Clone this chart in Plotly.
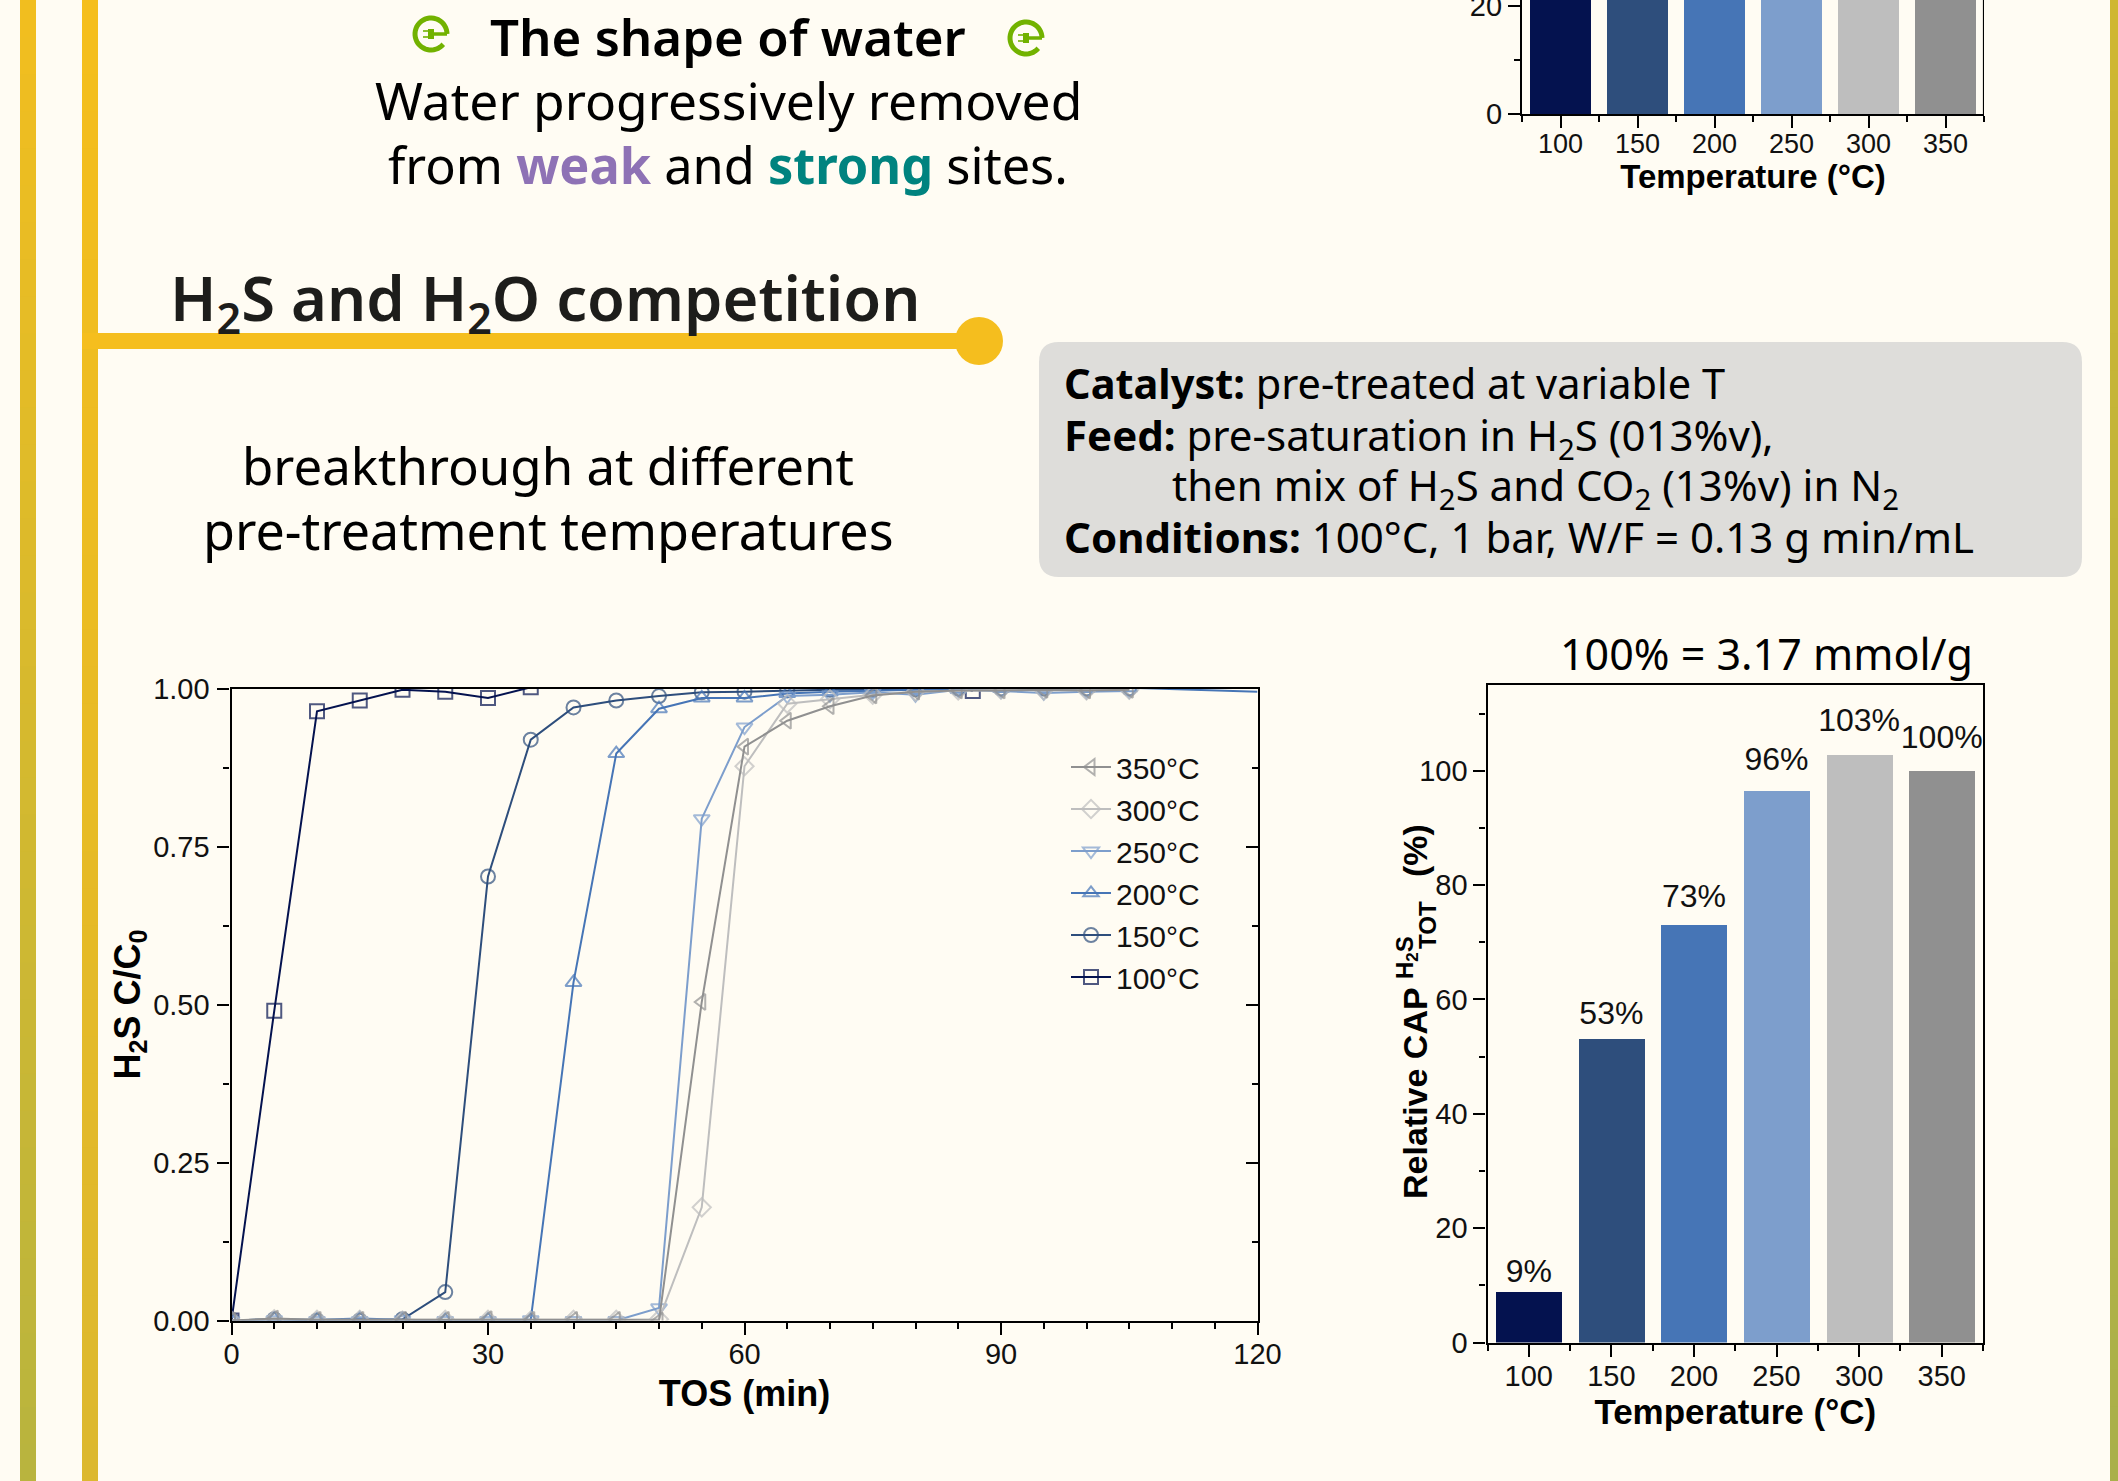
import math
import plotly.graph_objects as go

W, H = 2118, 1481
BG = "#FFFCF3"
ARIAL = "Liberation Sans"
POSTER = "Noto Sans"

# ---------- data ----------
tos = [0, 5, 10, 15, 20, 25, 30, 35, 40, 45, 50, 55, 60, 65, 70, 75, 80, 85, 90, 95, 100, 105]
tos_100 = [0, 5, 10, 15, 20, 25, 30, 35, 40, 50, 60, 70, 80, 86.7]
tos_200 = tos + [120]
h2s_100 = [0, 0.49, 0.964, 0.981, 0.998, 0.995, 0.985, 1.002, 1.03, 1.03, 1.03, 1.03, 1.03, 0.996]
h2s_150 = [0, 0.002, 0, 0, 0.002, 0.045, 0.7025, 0.919, 0.970, 0.981, 0.988, 0.994, 0.995, 0.997, 0.998, 0.998, 0.999, 1.0, 1.0, 1.0, 1.0, 1.0]
h2s_200 = [0, 0.002, 0.001, 0.003, 0.001, 0, 0.001, 0.001, 0.535, 0.897, 0.968, 0.985, 0.985, 0.992, 0.995, 0.997, 0.998, 0.999, 1.0, 1.0, 1.0, 1.001, 0.995]
h2s_250 = [0, 0.001, 0, 0, 0.001, 0, 0, 0.001, 0, 0, 0.02, 0.794, 0.939, 0.988, 0.99, 0.994, 0.99, 0.998, 0.996, 0.993, 0.995, 0.996]
h2s_300 = [0, 0.002, 0.001, 0.001, 0, 0.001, 0.001, 0, 0.001, 0.001, 0.002, 0.179, 0.877, 0.976, 0.983, 0.99, 0.995, 0.997, 0.998, 0.997, 0.997, 0.998]
h2s_350 = [0, 0.003, 0.001, 0.001, 0.001, 0.001, 0.002, 0.001, 0.001, 0.001, 0, 0.504, 0.908, 0.949, 0.972, 0.989, 0.995, 0.997, 0.997, 0.998, 0.997, 0.998]
temps = [100, 150, 200, 250, 300, 350]
temp_labels = ["100", "150", "200", "250", "300", "350"]
relative_cap = [8.9, 53, 73, 96.5, 102.8, 100]
cap_labels = ["9%", "53%", "73%", "96%", "103%", "100%"]
cap_label_heights = [12.0, 57.1, 77.6, 101.6, 108.3, 105.4]
# upper panel is cut by the page edge: only the part below the edge can be read
top_panel_visible = [21.2, 21.2, 21.2, 21.2, 21.2, 21.2]
series_names = ["100°C", "150°C", "200°C", "250°C", "300°C", "350°C"]
colors = ["#04124F", "#2E4E7C", "#4675B6", "#7D9ECC", "#BEBEBE", "#909090"]
symbols = ["square-open", "circle-open", "triangle-up-open", "triangle-down-open", "diamond-open", "triangle-left-open"]


def px(x):
    return x / W


def py(y):
    return 1 - y / H


def pt(x, y):
    return f"{px(x):.5f},{py(y):.5f}"


fig = go.Figure()

# ---------- line chart ----------
line_x = [tos_100, tos, tos_200, tos, tos, tos]
line_y = [h2s_100, h2s_150, h2s_200, h2s_250, h2s_300, h2s_350]
for name, c, s, xs, ys in zip(series_names, colors, symbols, line_x, line_y):
    sizes = [14] * len(xs)
    if xs[-1] == 120:
        sizes[-1] = 0
    fig.add_trace(go.Scatter(
        x=xs, y=ys, name=name, mode="lines+markers",
        line=dict(color=c, width=2),
        marker=dict(symbol=s, size=sizes, color=c, line=dict(color=c, width=2)),
        xaxis="x", yaxis="y",
    ))
fig.add_trace(go.Scatter(x=[0], y=[0], mode="none", showlegend=False, xaxis="x", yaxis="y3", hoverinfo="skip"))

# ---------- bars ----------
fig.add_trace(go.Bar(
    x=temps, y=relative_cap, width=40, marker=dict(color=colors, line=dict(width=0)),
    showlegend=False, xaxis="x2", yaxis="y2",
))
fig.add_trace(go.Scatter(
    x=temps, y=cap_label_heights, text=cap_labels, mode="text", textposition="middle center",
    cliponaxis=False, textfont=dict(family=ARIAL, size=32, color="#111111"),
    showlegend=False, xaxis="x2", yaxis="y2",
))
fig.add_trace(go.Bar(
    x=temps, y=top_panel_visible, width=40, marker=dict(color=colors, line=dict(width=0)),
    showlegend=False, xaxis="x3", yaxis="y4",
))

tickfont = dict(family=ARIAL, size=29, color="#111111")
AX = dict(showgrid=False, zeroline=False, showline=True, linecolor="#000000", linewidth=2.2, automargin=False,
          tickcolor="#000000", tickwidth=2, ticklen=12, ticks="outside", ticklabeloverflow="allow")
MIN = dict(ticks="outside", ticklen=6, tickwidth=2, tickcolor="#000000", showgrid=False)

shapes = []

# ---------- gradient rules ----------
def lerp(a, b, t):
    return "#%02X%02X%02X" % tuple(round(a[i] + (b[i] - a[i]) * t) for i in range(3))


for x0, x1, c0, c1 in [
    (20, 36, (0xF2, 0xBE, 0x1F), (0xB8, 0xB4, 0x3E)),
    (82, 98, (0xF5, 0xBE, 0x1C), (0xDC, 0xB8, 0x2E)),
    (2110, 2118, (0xCF, 0xB7, 0x30), (0xA9, 0xB0, 0x4A)),
]:
    n = 40
    for i in range(n):
        shapes.append(dict(type="rect", xref="paper", yref="paper", layer="below", line=dict(width=0),
                           x0=px(x0), x1=px(x1), y0=py(H * i / n), y1=py(H * (i + 1) / n + 1),
                           fillcolor=lerp(c0, c1, (i + 0.5) / n)))

# header rule and ball
shapes.append(dict(type="rect", xref="paper", yref="paper", layer="below", line=dict(width=0),
                   x0=px(82), x1=px(975), y0=py(333), y1=py(349), fillcolor="#F5BE1E"))
shapes.append(dict(type="circle", xref="paper", yref="paper", layer="below", line=dict(width=0),
                   x0=px(955), x1=px(1003), y0=py(317), y1=py(365), fillcolor="#F5BE1E"))

# grey rounded box
bx0, bx1, by0, by1, r = 1039, 2082, 342, 577, 20
shapes.append(dict(
    type="path", xref="paper", yref="paper", layer="below", line=dict(width=0), fillcolor="#DEDDDA",
    path=f"M{pt(bx0 + r, by0)} L{pt(bx1 - r, by0)} Q{pt(bx1, by0)} {pt(bx1, by0 + r)} "
         f"L{pt(bx1, by1 - r)} Q{pt(bx1, by1)} {pt(bx1 - r, by1)} "
         f"L{pt(bx0 + r, by1)} Q{pt(bx0, by1)} {pt(bx0, by1 - r)} "
         f"L{pt(bx0, by0 + r)} Q{pt(bx0, by0)} {pt(bx0 + r, by0)} Z"))


# plug-in "e" icons
def icon(cx, cy):
    green = "#72B200"
    rad = 16
    pts = []
    for k in range(0, 41):
        a = math.radians(0 + (320 * k / 40))
        pts.append((cx + rad * math.cos(a), cy - rad * math.sin(a)))
    shapes.append(dict(type="path", xref="paper", yref="paper", line=dict(color=green, width=5),
                       path="M" + " L".join(pt(*p) for p in pts)))
    shapes.append(dict(type="path", xref="paper", yref="paper", line=dict(color=green, width=3.5),
                       path=f"M{pt(cx - 2, cy)} L{pt(cx + rad, cy)}"))
    shapes.append(dict(type="rect", xref="paper", yref="paper", line=dict(width=0), fillcolor=green,
                       x0=px(cx - 3), x1=px(cx + 3), y0=py(cy - 5), y1=py(cy + 5)))
    for dy in (-3, 3):
        shapes.append(dict(type="path", xref="paper", yref="paper", line=dict(color=green, width=1.6),
                           path=f"M{pt(cx - 8, cy + dy)} L{pt(cx - 3, cy + dy)}"))


icon(431, 34)
icon(1026, 38)

# right axis line of the clipped top panel
shapes.append(dict(type="line", xref="x3", yref="y4 domain", x0=375, x1=375, y0=0, y1=1,
                   line=dict(color="#000000", width=2.2)))

# ---------- texts ----------
ann = []


def text(x, y, s, size, anchor="center", color="#000000", family=POSTER, weight=None, angle=0):
    f = dict(family=family, size=size, color=color)
    if weight:
        f["weight"] = weight
    ann.append(dict(xref="paper", yref="paper", x=px(x), y=py(y), text=s, showarrow=False,
                    xanchor=anchor, yanchor="middle", font=f, textangle=angle, align="left"))


text(728, 36, "The shape of water", 51, weight=600)
text(728, 100, "Water progressively removed", 51.5)
text(728, 164, 'from <span style="color:#8E72B5"><b>weak</b></span> and '
               '<span style="color:#00837F"><b>strong</b></span> sites.', 50.5)
text(545, 301, "H<sub>2</sub>S and H<sub>2</sub>O competition", 61.5, color="#1D1D1B", weight=600)
text(548, 465, "breakthrough at different", 51)
text(548, 530, "pre-treatment temperatures", 52)
text(1062, 383, "<b>Catalyst:</b> pre-treated at variable T", 41.5, anchor="left")
text(1062, 437, "<b>Feed:</b> pre-saturation in H<sub>2</sub>S (013%v),", 42, anchor="left")
text(1170, 488, "then mix of H<sub>2</sub>S and CO<sub>2</sub> (13%v) in N<sub>2</sub>", 42, anchor="left")
text(1062, 537, "<b>Conditions:</b> 100°C, 1 bar, W/F = 0.13 g min/mL", 42, anchor="left")
text(1766, 654, "100% = 3.17 mmol/g", 43)

# stacked y title of the bar chart
text(1415, 1093, "<b>Relative CAP</b>", 34, family=ARIAL, angle=-90)
text(1406, 958, "<b>H<sub>2</sub>S</b>", 24, family=ARIAL, angle=-90)
text(1427, 925, "<b>TOT</b>", 24, family=ARIAL, angle=-90)
text(1415, 851, "<b>(%)</b>", 34, family=ARIAL, angle=-90)

minor_x = [75, 125, 175, 225, 275, 325, 375]

fig.update_layout(
    width=W, height=H, autosize=False,
    margin=dict(l=0, r=0, t=0, b=0, pad=0, autoexpand=False),
    paper_bgcolor=BG, plot_bgcolor="rgba(0,0,0,0)",
    shapes=shapes, annotations=ann,
    bargap=0,
    legend=dict(x=px(1066), y=py(741), xanchor="left", yanchor="top",
                bgcolor="rgba(0,0,0,0)", traceorder="reversed", itemwidth=40,
                font=dict(family=ARIAL, size=30, color="#111111")),
    xaxis=dict(**AX, tickfont=tickfont, ticklabelstandoff=-5,
               domain=[px(231.5), px(1257.5)], range=[0, 120], tickvals=[0, 30, 60, 90, 120],
               minor=dict(**MIN, dtick=5), anchor="y", mirror=True,
               title=dict(text="<b>TOS (min)</b>", font=dict(family=ARIAL, size=36, color="#000000"), standoff=11)),
    yaxis=dict(**AX, tickfont=tickfont, ticklabelstandoff=2,
               domain=[py(1320.5), py(688.5)], range=[0, 1], tickvals=[0, 0.25, 0.5, 0.75, 1],
               tickformat=".2f", minor=dict(**MIN, dtick=0.125, tick0=0), anchor="x", mirror=True,
               title=dict(text="<b>H<sub>2</sub>S C/C<sub>0</sub></b>", font=dict(family=ARIAL, size=36, color="#000000"), standoff=2)),
    yaxis3=dict(overlaying="y", side="right", anchor="x", range=[0, 1], showgrid=False, zeroline=False,
                automargin=False, showline=False, showticklabels=False, ticks="inside", ticklen=12, tickwidth=2,
                tickcolor="#000000", tickvals=[0.25, 0.5, 0.75],
                minor=dict(ticks="inside", ticklen=6, tickwidth=2, tickcolor="#000000", tickvals=[0.125, 0.375, 0.625, 0.875])),
    xaxis2=dict(**AX, tickfont=tickfont, ticklabelstandoff=-5,
                domain=[px(1487.5), px(1983)], range=[75, 375], tickvals=temps, ticktext=temp_labels,
                minor=dict(**MIN, tickvals=minor_x), anchor="y2", mirror=True,
                title=dict(text="<b>Temperature (°C)</b>", font=dict(family=ARIAL, size=35, color="#000000"), standoff=4)),
    yaxis2=dict(**AX, tickfont=tickfont, domain=[py(1342.5), py(685)], range=[0, 115], tickvals=[0, 20, 40, 60, 80, 100],
                minor=dict(**MIN, dtick=10, tick0=0), anchor="x2", mirror=True),
    xaxis3=dict(**AX, tickfont=dict(family=ARIAL, size=27, color="#111111"), ticklabelstandoff=-8,
                domain=[px(1522), px(1984)], range=[75, 375], tickvals=temps, ticktext=temp_labels,
                minor=dict(**MIN, tickvals=minor_x), anchor="y4",
                title=dict(text="<b>Temperature (°C)</b>", font=dict(family=ARIAL, size=33, color="#000000"), standoff=7)),
    yaxis4=dict(**AX, tickfont=tickfont, domain=[py(114), 1], range=[0, 21.1], tickvals=[0, 20],
                minor=dict(**MIN, tickvals=[10]), anchor="x3"),
)

fix = """
var s=document.createElement('style');
s.textContent='html,body{margin:0!important;padding:0!important;overflow:hidden!important;background:%s}';
document.head.appendChild(s);
""" % BG
fig.write_html("out.html", post_script=fix, config=dict(displayModeBar=False))
